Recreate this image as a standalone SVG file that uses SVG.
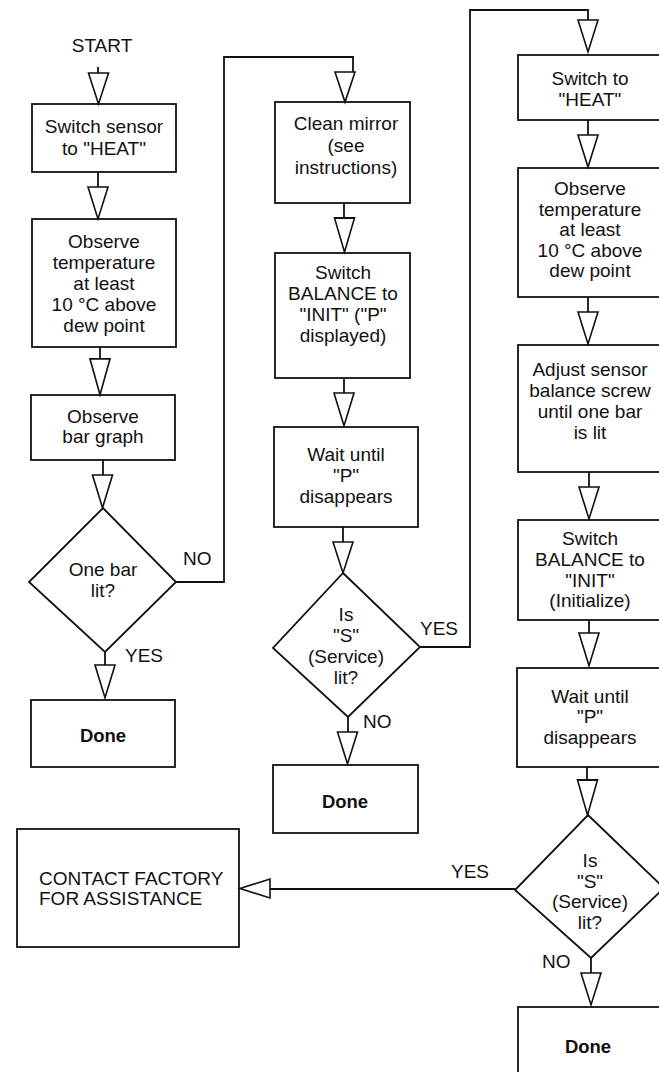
<svg xmlns="http://www.w3.org/2000/svg" width="659" height="1072" viewBox="0 0 659 1072">
<style>
  .box{fill:none;stroke:#111;stroke-width:1.8}
  .ln{fill:none;stroke:#111;stroke-width:1.8;stroke-linejoin:miter}
  .tri{fill:#fff;stroke:#111;stroke-width:1.6;stroke-linejoin:miter}
  text{font-family:"Liberation Sans",Arial,sans-serif;font-size:19px;fill:#111}
  .c{text-anchor:middle}
  .b{font-weight:bold;font-size:18.5px}
</style>
<defs>
  <path id="dn" d="M-10,0 L10,0 L0,31 Z"/>
</defs>
<rect width="659" height="1072" fill="#fff"/>

<g id="connectors">
  <!-- left column -->
  <path class="ln" d="M98,67 V74"/><use href="#dn" class="tri" x="98.5" y="73" transform="translate(0,0)"/>
  <path class="ln" d="M98,172 V188"/><use href="#dn" class="tri" x="98" y="187" transform="matrix(1,0,0,1.03,0,-5.6)"/>
  <path class="ln" d="M100,347 V360"/><use href="#dn" class="tri" x="100" y="359" transform="matrix(1,0,0,1.16,0,-57.6)"/>
  <path class="ln" d="M103,460 V476"/><use href="#dn" class="tri" x="102.5" y="475" transform="matrix(1,0,0,1.06,0,-28.5)"/>
  <path class="ln" d="M105,652 V666"/><use href="#dn" class="tri" x="105" y="665" transform="matrix(1,0,0,1.06,0,-39.9)"/>
  <!-- NO loop to middle column -->
  <path class="ln" d="M176,582 H224 V57 H353 V73"/>
  <use href="#dn" class="tri" x="345" y="72" transform="matrix(1,0,0,0.97,0,2.2)"/>
  <!-- middle column -->
  <path class="ln" d="M344,203 V219"/><use href="#dn" class="tri" x="344.5" y="218" transform="matrix(1,0,0,1.1,0,-21.8)"/>
  <path class="ln" d="M344,378 V394"/><use href="#dn" class="tri" x="344" y="393" transform="matrix(1,0,0,1.06,0,-23.6)"/>
  <path class="ln" d="M343,527 V543"/><use href="#dn" class="tri" x="343" y="542" transform="matrix(1,0,0,1.0,0,0)"/>
  <path class="ln" d="M348,717 V733"/><use href="#dn" class="tri" x="347.5" y="732" transform="matrix(1,0,0,1.03,0,-22)"/>
  <!-- YES loop to right column -->
  <path class="ln" d="M420,647 H470 V10 H588 V21"/>
  <use href="#dn" class="tri" x="588" y="20" transform="matrix(1,0,0,1.03,0,-0.6)"/>
  <!-- right column -->
  <path class="ln" d="M588,120 V136"/><use href="#dn" class="tri" x="588" y="135" transform="matrix(1,0,0,1.03,0,-4)"/>
  <path class="ln" d="M588,297 V313"/><use href="#dn" class="tri" x="588" y="312" transform="matrix(1,0,0,1.03,0,-9.4)"/>
  <path class="ln" d="M589,472 V488"/><use href="#dn" class="tri" x="589" y="487" transform="matrix(1,0,0,1.03,0,-14.6)"/>
  <path class="ln" d="M589,620 V634"/><use href="#dn" class="tri" x="589" y="633" transform="matrix(1,0,0,1.06,0,-38)"/>
  <path class="ln" d="M587,767 V781"/><use href="#dn" class="tri" x="587.5" y="780" transform="matrix(1,0,0,1.13,0,-101.4)"/>
  <path class="ln" d="M591,958 V974"/><use href="#dn" class="tri" x="591" y="973" transform="matrix(1,0,0,1.03,0,-29.2)"/>
  <!-- YES to contact factory -->
  <path class="ln" d="M515,889 H269"/>
  <path class="tri" d="M270,879 L270,898 L240,888.5 Z"/>
</g>

<g id="start"><text class="c" x="102" y="52">START</text></g>

<g id="n1"><rect class="box" x="32" y="104" width="144" height="68"/>
  <text class="c" x="104" y="133">Switch sensor</text><text class="c" x="104" y="155">to "HEAT"</text></g>

<g id="n2"><rect class="box" x="32" y="219" width="144" height="128"/>
  <text class="c" x="104" y="248">Observe</text><text class="c" x="104" y="269">temperature</text>
  <text class="c" x="104" y="290">at least</text><text class="c" x="104" y="311">10 °C above</text>
  <text class="c" x="104" y="332">dew point</text></g>

<g id="n3"><rect class="box" x="31" y="395" width="144" height="65"/>
  <text class="c" x="103" y="423">Observe</text><text class="c" x="103" y="443">bar graph</text></g>

<g id="d1"><path class="box" d="M103,508 L176,582 L105,652 L29,582 Z"/>
  <text class="c" x="103" y="576">One bar</text><text class="c" x="103" y="597">lit?</text>
  <text x="183" y="565">NO</text><text x="125" y="662">YES</text></g>

<g id="done1"><rect class="box" x="31" y="700" width="144" height="67"/>
  <text class="c b" x="103" y="742">Done</text></g>

<g id="n4"><rect class="box" x="275" y="102" width="135" height="101"/>
  <text class="c" x="346" y="130">Clean mirror</text><text class="c" x="346" y="152">(see</text>
  <text class="c" x="346" y="174">instructions)</text></g>

<g id="n5"><rect class="box" x="275" y="253" width="135" height="125"/>
  <text class="c" x="343" y="279">Switch</text><text class="c" x="343" y="300">BALANCE to</text>
  <text class="c" x="343" y="321">"INIT" ("P"</text><text class="c" x="343" y="342">displayed)</text></g>

<g id="n6"><rect class="box" x="274" y="427" width="144" height="100"/>
  <text class="c" x="346" y="461">Wait until</text><text class="c" x="346" y="482">"P"</text>
  <text class="c" x="346" y="503">disappears</text></g>

<g id="d2"><path class="box" d="M343,573 L420,647 L348,717 L273,648 Z"/>
  <text class="c" x="346" y="621">Is</text><text class="c" x="346" y="642">"S"</text>
  <text class="c" x="346" y="663">(Service)</text><text class="c" x="346" y="684">lit?</text>
  <text x="420" y="635">YES</text><text x="363" y="728">NO</text></g>

<g id="done2"><rect class="box" x="273" y="765" width="145" height="68"/>
  <text class="c b" x="345" y="808">Done</text></g>

<g id="n7"><rect class="box" x="518" y="55" width="145" height="65"/>
  <text class="c" x="590" y="85">Switch to</text><text class="c" x="590" y="106">"HEAT"</text></g>

<g id="n8"><rect class="box" x="518" y="168" width="145" height="129"/>
  <text class="c" x="590" y="195">Observe</text><text class="c" x="590" y="216">temperature</text>
  <text class="c" x="590" y="236">at least</text><text class="c" x="590" y="257">10 °C above</text>
  <text class="c" x="590" y="277">dew point</text></g>

<g id="n9"><rect class="box" x="518" y="345" width="145" height="127"/>
  <text class="c" x="590" y="376">Adjust sensor</text><text class="c" x="590" y="397">balance screw</text>
  <text class="c" x="590" y="418">until one bar</text><text class="c" x="590" y="439">is lit</text></g>

<g id="n10"><rect class="box" x="518" y="520" width="145" height="100"/>
  <text class="c" x="590" y="545">Switch</text><text class="c" x="590" y="566">BALANCE to</text>
  <text class="c" x="590" y="587">"INIT"</text><text class="c" x="590" y="607">(Initialize)</text></g>

<g id="n11"><rect class="box" x="517" y="668" width="146" height="99"/>
  <text class="c" x="590" y="703">Wait until</text><text class="c" x="590" y="723">"P"</text>
  <text class="c" x="590" y="744">disappears</text></g>

<g id="d3"><path class="box" d="M588,815 L664,888 L591,958 L515,890 Z"/>
  <text class="c" x="590" y="867">Is</text><text class="c" x="590" y="888">"S"</text>
  <text class="c" x="590" y="908">(Service)</text><text class="c" x="590" y="929">lit?</text>
  <text x="489" y="878" text-anchor="end">YES</text><text x="542" y="968">NO</text></g>

<g id="done3"><rect class="box" x="518" y="1007" width="145" height="70"/>
  <text class="c b" x="588" y="1053">Done</text></g>

<g id="contact"><rect class="box" x="17" y="829" width="222" height="118"/>
  <text x="39" y="885">CONTACT FACTORY</text><text x="39" y="905">FOR ASSISTANCE</text></g>
</svg>
